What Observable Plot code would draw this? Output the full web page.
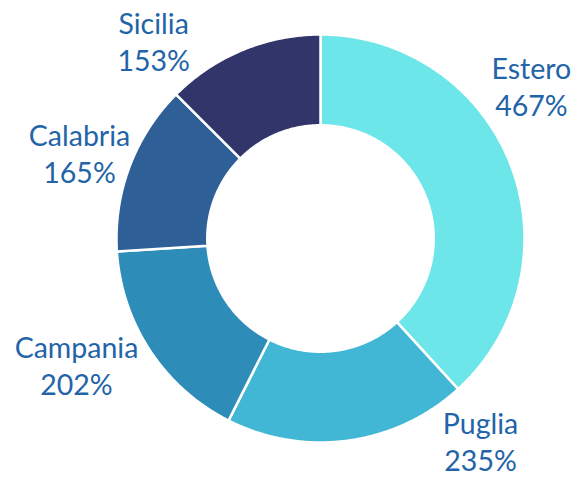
<!DOCTYPE html>
<html>
<head>
<meta charset="utf-8">
<script src="https://cdn.jsdelivr.net/npm/d3@7"></script>
<script src="https://cdn.jsdelivr.net/npm/@observablehq/plot@0.6"></script>
<style>
  html, body { margin: 0; padding: 0; background: #ffffff; }
  #chart svg { display: block; }
</style>
</head>
<body>
<div id="chart"></div>
<script>
// ---- data ----
const names  = ["Estero", "Puglia", "Campania", "Calabria", "Sicilia"];
const values = [467, 235, 202, 165, 153];
const valueLabels = ["467%", "235%", "202%", "165%", "153%"];
const colors = ["#6ce6e8", "#42b7d5", "#2e8cb9", "#2e5f97", "#31356a"];

// ---- layout (not data) ----
const W = 578, H = 477;
const cx = 320, cy = 238, R = 204;     // pixel centre and outer radius
const innerRatio = 0.555;
// label placement (angle in degrees clockwise from top, radius as fraction of R)
const labelLayout = {
  Estero:   {angle: 54.1,  r: 1.276},
  Puglia:   {angle: 141.6, r: 1.263},
  Campania: {angle: 242.7, r: 1.346},
  Calabria: {angle: 289.6, r: 1.254},
  Sicilia:  {angle: 319.9, r: 1.27}
};

const rows = names.map((n, i) => ({name: n, value: values[i], label: valueLabels[i]}));
const arcs = d3.pie().sort(null).value(d => d.value).startAngle(0).endAngle(2 * Math.PI)(rows);

const pts = [];
const step = Math.PI / 360;
for (const a of arcs) {
  const n = Math.max(2, Math.ceil((a.endAngle - a.startAngle) / step));
  for (let k = 0; k <= n; k++) {
    const t = a.startAngle + (a.endAngle - a.startAngle) * k / n;
    pts.push({name: a.data.name, x: Math.sin(t), y: Math.cos(t)});
  }
  for (let k = n; k >= 0; k--) {
    const t = a.startAngle + (a.endAngle - a.startAngle) * k / n;
    pts.push({name: a.data.name, x: innerRatio * Math.sin(t), y: innerRatio * Math.cos(t)});
  }
}

const labelData = arcs.map(a => {
  const L = labelLayout[a.data.name];
  const t = L.angle * Math.PI / 180;
  return {name: a.data.name, text: a.data.name + "\n" + a.data.label, x: L.r * Math.sin(t), y: L.r * Math.cos(t)};
});

const chart = Plot.plot({
  width: W,
  height: H,
  margin: 0,
  style: {background: "#ffffff"},
  x: {domain: [-cx / R, (W - cx) / R], axis: null},
  y: {domain: [-(H - cy) / R, cy / R], axis: null},
  color: {domain: names, range: colors},
  marks: [
    Plot.line(pts, {x: "x", y: "y", z: "name", fill: "name", stroke: "#ffffff", strokeWidth: 2.5, curve: "linear-closed"}),
    Plot.text(labelData, {
      x: "x", y: "y", text: "text",
      fontSize: 28.5, lineHeight: 1.3,
      fontFamily: "Lato, 'Open Sans', sans-serif",
      fill: "#2264a7", textAnchor: "middle", lineAnchor: "middle"
    })
  ]
});
document.getElementById("chart").appendChild(chart);
</script>
</body>
</html>
